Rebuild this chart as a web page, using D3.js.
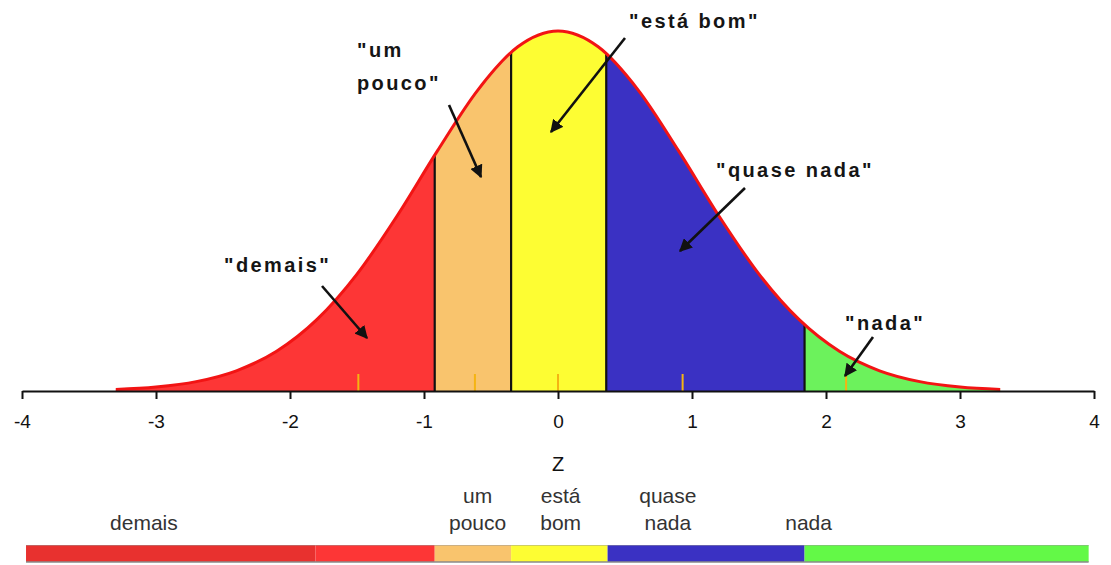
<!DOCTYPE html>
<html>
<head>
<meta charset="utf-8">
<script src="https://cdn.jsdelivr.net/npm/d3@7"></script>
<style>
  html, body { margin: 0; padding: 0; background: #fff; }
  svg { display: block; }
</style>
</head>
<body>
<svg id="chart" width="1111" height="565"></svg>
<script>
// Standard normal density, sampled along z
const curveZ = [-3.3, -3.0, -2.7, -2.4, -2.1, -1.8, -1.5, -1.2, -0.9, -0.6, -0.3, 0,
                0.3, 0.6, 0.9, 1.2, 1.5, 1.8, 2.1, 2.4, 2.7, 3.0, 3.3];
const curveDensity = [0.0017, 0.0044, 0.0104, 0.0224, 0.0440, 0.0790, 0.1295, 0.1942, 0.2661, 0.3332, 0.3814, 0.3989,
                      0.3814, 0.3332, 0.2661, 0.1942, 0.1295, 0.0790, 0.0440, 0.0224, 0.0104, 0.0044, 0.0017];

// Category bands (z cut points between them)
const categories = ["demais", "um pouco", "está bom", "quase nada", "nada"];
const cutPoints = [-0.92, -0.35, 0.36, 1.84];
const categoryColors = ["#fd3636", "#f9c46d", "#fdfd33", "#3a31c3", "#6cf25c"];

// Small markers at the centre of each band
const bandMarkers = [-1.49, -0.62, 0, 0.93, 2.15];

// Axis ticks
const tickValues = [-4, -3, -2, -1, 0, 1, 2, 3, 4];

// Bottom colour bar: z edges and colours of each segment
const barEdges = [-3.97, -1.81, -0.92, -0.35, 0.37, 1.84, 3.96];
const barColors = ["#e8312f", "#fd3636", "#f9c46d", "#fdfd33", "#3a31c3", "#63f947"];

// Bottom bar captions (lines, centre z)
const barLabels = [
  { lines: ["demais"], z: -3.09 },
  { lines: ["um", "pouco"], z: -0.60 },
  { lines: ["está", "bom"], z: 0.02 },
  { lines: ["quase", "nada"], z: 0.82 },
  { lines: ["nada"], z: 1.87 }
];

// Quoted callouts on the curve
const callouts = [
  { lines: ["\"um", "pouco\""] },
  { lines: ["\"está bom\""] },
  { lines: ["\"quase nada\""] },
  { lines: ["\"demais\""] },
  { lines: ["\"nada\""] }
];

// Callout layout (pixels): text anchor point and arrow from/to
const calloutLayout = [
  { x: 357, y: 57, dy: 33, ax1: 449, ay1: 105, ax2: 481, ay2: 177 },
  { x: 629, y: 28, dy: 0, ax1: 625, ay1: 38, ax2: 551, ay2: 132 },
  { x: 716, y: 177, dy: 0, ax1: 745, ay1: 188, ax2: 680, ay2: 251 },
  { x: 224, y: 272, dy: 0, ax1: 322, ay1: 286, ax2: 367, ay2: 338 },
  { x: 845, y: 330, dy: 0, ax1: 873, ay1: 337, ax2: 845, ay2: 376 }
];

const svg = d3.select("#chart");

const x = d3.scaleLinear().domain([-4, 4]).range([22, 1094]);
const y = d3.scaleLinear().domain([0, 0.3989]).range([391, 31]);

const pts = curveZ.map((z, i) => [z, curveDensity[i]]);

const area = d3.area()
  .x(d => x(d[0]))
  .y0(y(0))
  .y1(d => y(d[1]))
  .curve(d3.curveMonotoneX);

const line = d3.line()
  .x(d => x(d[0]))
  .y(d => y(d[1]))
  .curve(d3.curveMonotoneX);

const defs = svg.append("defs");
defs.append("clipPath").attr("id", "under-curve")
  .append("path").attr("d", area(pts));

// Arrowhead marker
defs.append("marker")
  .attr("id", "arrowhead")
  .attr("viewBox", "0 0 10 10")
  .attr("refX", 9).attr("refY", 5)
  .attr("markerWidth", 5).attr("markerHeight", 5)
  .attr("markerUnits", "strokeWidth")
  .attr("orient", "auto")
  .append("path").attr("d", "M0,0 L10,5 L0,10 Z").attr("fill", "#111");

// Band fills, clipped to the area under the curve
const edges = [-4, ...cutPoints, 4];
const bands = svg.append("g").attr("clip-path", "url(#under-curve)");
bands.selectAll("rect.band")
  .data(categories)
  .join("rect")
  .attr("class", "band")
  .attr("x", (d, i) => x(edges[i]))
  .attr("width", (d, i) => x(edges[i + 1]) - x(edges[i]))
  .attr("y", y(0.45))
  .attr("height", y(0) - y(0.45))
  .attr("fill", (d, i) => categoryColors[i]);

// Band centre markers
bands.selectAll("line.marker")
  .data(bandMarkers)
  .join("line")
  .attr("class", "marker")
  .attr("x1", d => x(d)).attr("x2", d => x(d))
  .attr("y1", y(0)).attr("y2", y(0) - 17)
  .attr("stroke", "#f5b412")
  .attr("stroke-width", 2);

// Dividers between bands
bands.selectAll("line.divider")
  .data(cutPoints)
  .join("line")
  .attr("class", "divider")
  .attr("x1", d => x(d)).attr("x2", d => x(d))
  .attr("y1", y(0)).attr("y2", y(0.45))
  .attr("stroke", "#111")
  .attr("stroke-width", 2.2);

// Curve outline
svg.append("path")
  .attr("d", line(pts))
  .attr("fill", "none")
  .attr("stroke", "#f21414")
  .attr("stroke-width", 3)
  .attr("stroke-linejoin", "round");

// Axis
const axis = svg.append("g")
  .attr("transform", `translate(0,${y(0)})`)
  .call(d3.axisBottom(x).tickValues(tickValues).tickSize(8).tickSizeOuter(0).tickPadding(16).tickFormat(d3.format("d")));
axis.select(".domain").attr("stroke", "#111").attr("stroke-width", 2);
axis.selectAll(".tick line").attr("stroke", "#111").attr("stroke-width", 2);
axis.selectAll(".tick text")
  .attr("font-family", "Liberation Sans, Arial, sans-serif")
  .attr("font-size", 19)
  .attr("fill", "#111")
  .text(d => d < 0 ? "-" + Math.abs(d) : String(d));

svg.append("text")
  .attr("x", x(0)).attr("y", 471)
  .attr("text-anchor", "middle")
  .attr("font-family", "Liberation Sans, Arial, sans-serif")
  .attr("font-size", 20)
  .attr("fill", "#111")
  .text("Z");

// Callouts with arrows
callouts.forEach((c, i) => {
  const L = calloutLayout[i];
  const t = svg.append("text")
    .attr("x", L.x).attr("y", L.y)
    .attr("font-family", "Liberation Sans, Arial, sans-serif")
    .attr("font-weight", "bold")
    .attr("font-size", 20)
    .attr("letter-spacing", 2.4)
    .attr("fill", "#151515");
  c.lines.forEach((s, j) => {
    t.append("tspan").attr("x", L.x).attr("y", L.y + j * L.dy).text(s);
  });
  svg.append("line")
    .attr("x1", L.ax1).attr("y1", L.ay1)
    .attr("x2", L.ax2).attr("y2", L.ay2)
    .attr("stroke", "#111")
    .attr("stroke-width", 2.6)
    .attr("marker-end", "url(#arrowhead)");
});

// Bottom colour bar
const bar = svg.append("g");
bar.selectAll("rect")
  .data(barColors)
  .join("rect")
  .attr("x", (d, i) => x(barEdges[i]))
  .attr("width", (d, i) => x(barEdges[i + 1]) - x(barEdges[i]))
  .attr("y", 545)
  .attr("height", 17)
  .attr("fill", d => d);
bar.append("line")
  .attr("x1", x(barEdges[0])).attr("x2", x(barEdges[barEdges.length - 1]))
  .attr("y1", 562).attr("y2", 562)
  .attr("stroke", "#8a8a8a").attr("stroke-width", 1.5);
bar.append("line")
  .attr("x1", x(barEdges[0])).attr("x2", x(barEdges[barEdges.length - 1]))
  .attr("y1", 545.5).attr("y2", 545.5)
  .attr("stroke", "#999").attr("stroke-width", 0.8).attr("opacity", 0.6);

// Bottom captions
barLabels.forEach(b => {
  const t = svg.append("text")
    .attr("text-anchor", "middle")
    .attr("font-family", "Liberation Sans, Arial, sans-serif")
    .attr("font-size", 21)
    .attr("fill", "#333");
  const baseY = 530 - (b.lines.length - 1) * 27;
  b.lines.forEach((s, j) => {
    t.append("tspan").attr("x", x(b.z)).attr("y", baseY + j * 27).text(s);
  });
});
</script>
</body>
</html>
